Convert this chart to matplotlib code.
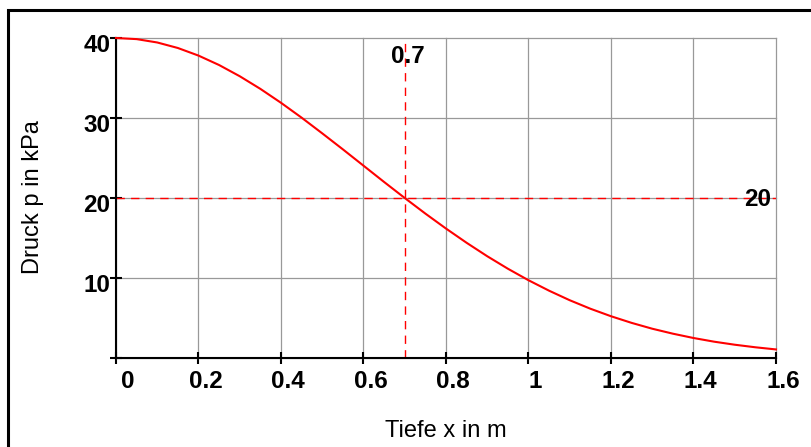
import matplotlib
matplotlib.use('Agg')
import matplotlib.pyplot as plt
from matplotlib.transforms import ScaledTranslation
from matplotlib.patches import Rectangle

# Data
depth_m = [0.00, 0.05, 0.10, 0.15, 0.20, 0.25, 0.30, 0.35, 0.40, 0.45,
           0.50, 0.55, 0.60, 0.65, 0.70, 0.75, 0.80, 0.85, 0.90, 0.95,
           1.00, 1.05, 1.10, 1.15, 1.20, 1.25, 1.30, 1.35, 1.40, 1.45,
           1.50, 1.55, 1.60]
pressure_kpa = [40.00, 39.86, 39.44, 38.75, 37.80, 36.62, 35.22, 33.64, 31.90, 30.04,
                28.08, 26.08, 24.04, 22.00, 20.00, 18.05, 16.18, 14.40, 12.72, 11.16,
                9.72, 8.41, 7.22, 6.16, 5.22, 4.39, 3.66, 3.04, 2.50, 2.04,
                1.66, 1.34, 1.07]
x_ticks = [0, 0.2, 0.4, 0.6, 0.8, 1.0, 1.2, 1.4, 1.6]
x_tick_labels = ['0', '0.2', '0.4', '0.6', '0.8', '1', '1.2', '1.4', '1.6']
y_ticks = [0, 10, 20, 30, 40]
y_tick_labels = ['', '10', '20', '30', '40']
mark_x = 0.7
mark_p = 20
mark_x_label = '0.7'
mark_p_label = '20'
x_label = 'Tiefe x in m'
y_label = 'Druck p in kPa'

plt.rcParams['font.family'] = ['Liberation Sans', 'DejaVu Sans']

W, H = 812, 447
fig = plt.figure(figsize=(W / 100, H / 100), dpi=100)
fig.patch.set_facecolor('white')

# outer frame (only top and left visible)
frame = Rectangle((7.5 / W, -0.2), 1.5, 1.2 - 9.5 / H, transform=fig.transFigure,
                  fill=False, edgecolor='black', linewidth=2.2)
fig.add_artist(frame)

ax = fig.add_axes([116 / W, 89 / H, 660 / W, 320 / H])
ax.set_xlim(0, 1.6)
ax.set_ylim(0, 40)

ax.grid(True, color='#999999', linewidth=0.9)
ax.set_axisbelow(True)
for gl in ax.get_xgridlines() + ax.get_ygridlines():
    gl.set_clip_on(False)

ax.spines['top'].set_visible(False)
ax.spines['right'].set_visible(False)
ax.spines['left'].set_linewidth(1.5)
ax.spines['bottom'].set_linewidth(1.5)

TFS = 17.5
ax.set_xticks(x_ticks)
ax.set_xticklabels(x_tick_labels, fontsize=TFS, fontweight='bold')
ax.set_yticks(y_ticks)
ax.set_yticklabels(y_tick_labels, fontsize=TFS, fontweight='bold')
ax.tick_params(axis='both', direction='inout', length=8, width=1.5, color='black')
ax.tick_params(axis='x', pad=5)
ax.tick_params(axis='y', pad=0)

dpi_t = fig.dpi_scale_trans
for i, lab in enumerate(ax.get_xticklabels()):
    dx = 12 if i == 0 else 7
    lab.set_transform(lab.get_transform() + ScaledTranslation(dx / 100, 0, dpi_t))
for lab in ax.get_yticklabels():
    lab.set_transform(lab.get_transform() + ScaledTranslation(0, -4.5 / 100, dpi_t))

# curve
ax.plot(depth_m, pressure_kpa, color='red', linewidth=1.5, clip_on=False, zorder=3,
        solid_joinstyle='round')

# marker lines
ax.plot([mark_x, mark_x], [0, 39.4], color='red', linewidth=1,
        linestyle=(0, (6, 4.5)), zorder=2)
ax.plot([0, 1.6], [mark_p, mark_p], color='red', linewidth=1,
        linestyle=(0, (6, 4.5)), zorder=2)

ax.text(mark_x, 37.9, mark_x_label, fontsize=TFS, fontweight='bold',
        ha='center', va='center', zorder=4).set_transform(
            ax.transData + ScaledTranslation(3 / 100, -2 / 100, dpi_t))
ax.text(1.6, mark_p, mark_p_label, fontsize=TFS, fontweight='bold',
        ha='center', va='center', zorder=4).set_transform(
            ax.transData + ScaledTranslation(-18.5 / 100, -1.5 / 100, dpi_t))

fig.text(446 / W, 1 - 431 / H, x_label, fontsize=17, ha='center', va='center')
fig.text(33 / W, 1 - 197.5 / H, y_label, fontsize=17, ha='center', va='center',
         rotation=90)

fig.savefig('out.png', dpi=100)
